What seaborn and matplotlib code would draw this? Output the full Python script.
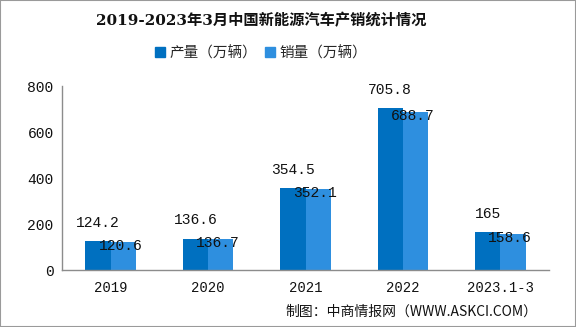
import matplotlib
matplotlib.use("Agg")
import matplotlib.pyplot as plt
from matplotlib.patches import Rectangle
import seaborn as sns
import pandas as pd

categories = ["2019", "2020", "2021", "2022", "2023.1-3"]
production = [124.2, 136.6, 354.5, 705.8, 165]
sales = [120.6, 136.7, 352.1, 688.7, 158.6]
series_names = ["产量（万辆）", "销量（万辆）"]
title = "2019-2023年3月中国新能源汽车产销统计情况"
source = "制图：中商情报网（WWW.ASKCI.COM）"

df = pd.DataFrame({
    "category": categories * 2,
    "value": production + sales,
    "series": [series_names[0]] * len(categories) + [series_names[1]] * len(categories),
})

sns.set_theme(style="white")
plt.rcParams["font.family"] = ["Noto Sans CJK SC", "DejaVu Sans"]
plt.rcParams["axes.unicode_minus"] = False

num_font = ["Liberation Mono", "Noto Sans CJK SC"]
colors = ["#0070C0", "#2E8FDF"]
spine_color = "#8C8C8C"

fig = plt.figure(figsize=(5.76, 3.27), dpi=100)
fig.patch.set_facecolor("white")
ax = fig.add_axes([62 / 576, 1 - 270 / 327, (549 - 62) / 576, (270 - 86) / 327])

sns.barplot(data=df, x="category", y="value", hue="series", palette=colors,
            width=0.52, dodge=True, saturation=1, ax=ax, legend=False,
            edgecolor="none", linewidth=0)

ax.set_ylim(0, 800)
ax.set_xlim(-0.5, len(categories) - 0.5)
ax.set_yticks([0, 200, 400, 600, 800])
ax.set_xlabel("")
ax.set_ylabel("")
for side in ["top", "right"]:
    ax.spines[side].set_visible(False)
for side in ["left", "bottom"]:
    ax.spines[side].set_color(spine_color)
    ax.spines[side].set_linewidth(1.0)

# category labels sit between boundary ticks
ax.set_xticks(range(len(categories)))
ax.set_xticklabels(categories, family=num_font, fontsize=10, color="#111111")
ax.set_xticks([i - 0.5 for i in range(len(categories) + 1)], minor=True)
ax.tick_params(axis="x", which="major", length=0, pad=8)
ax.tick_params(axis="x", which="minor", length=5, color=spine_color, width=1, direction="out")
ax.tick_params(axis="y", length=4, color=spine_color, width=1, direction="out", pad=2)
for lbl in ax.get_yticklabels():
    lbl.set_family(num_font)
    lbl.set_fontsize(10.5)
    lbl.set_color("#111111")

# value labels
prod_bars = ax.containers[0]
sale_bars = ax.containers[1]
for bar, v in zip(prod_bars, production):
    ax.annotate(f"{v:g}", (bar.get_x() + bar.get_width() / 2, v),
                xytext=(0, 8), textcoords="offset points", ha="center", va="bottom",
                family=num_font, fontsize=10.5, color="#111111")
for bar, v in zip(sale_bars, sales):
    ax.annotate(f"{v:g}", (bar.get_x() + bar.get_width() / 2, v),
                xytext=(-2, 2), textcoords="offset points", ha="center", va="top",
                family=num_font, fontsize=10.5, color="#111111")

fig.text(261 / 576, 1 - 21 / 327, title, ha="center", va="center", fontsize=11,
         fontweight="bold", family=["DejaVu Serif", "Noto Sans CJK SC"], color="#111111")

handles = [Rectangle((0, 0), 1, 1, color=c) for c in colors]
fig.legend(handles, series_names, loc="center", bbox_to_anchor=(261 / 576, 1 - 53 / 327),
           ncol=2, frameon=False, fontsize=10.5, handlelength=0.7, handleheight=0.7,
           handletextpad=0.3, columnspacing=0.5)

fig.text(537 / 576, 1 - 312 / 327, source, ha="right", va="center", fontsize=10,
         color="#111111")

fig.add_artist(Rectangle((0, 0), 1, 1, transform=fig.transFigure, fill=False,
                         edgecolor="#9A9A9A", linewidth=1.5))

fig.savefig("out.png", dpi=100, facecolor="white")
